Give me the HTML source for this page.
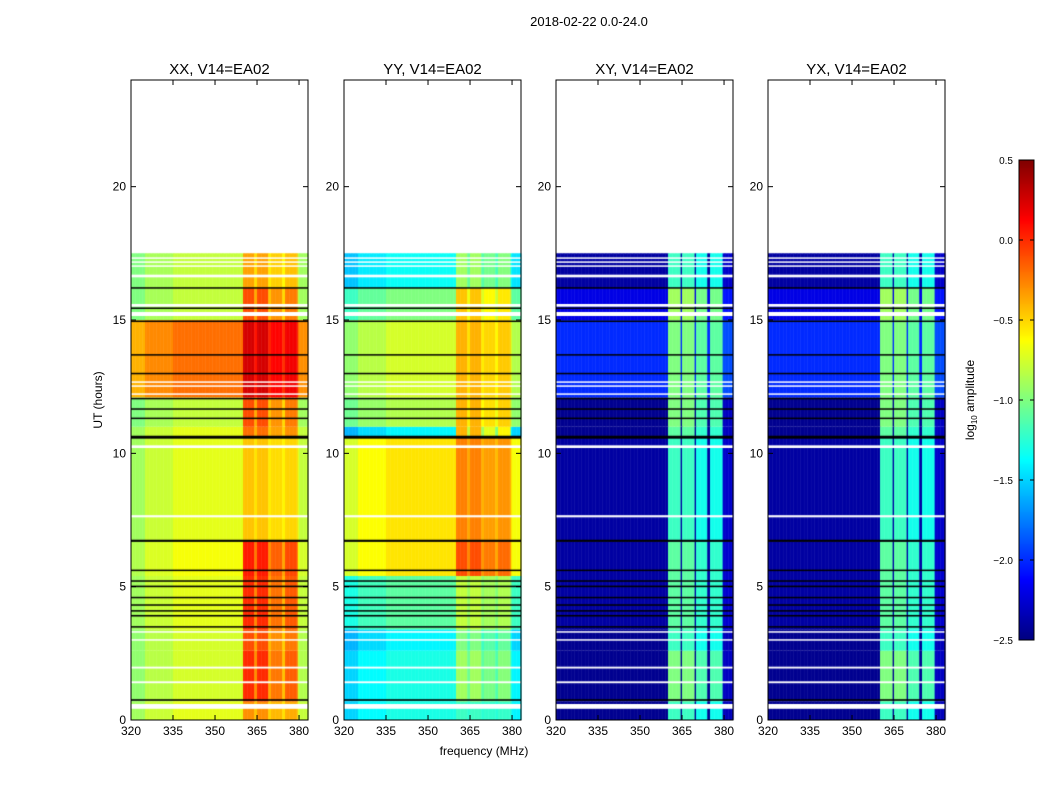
<!DOCTYPE html>
<html><head><meta charset="utf-8"><style>
html,body{margin:0;padding:0;background:#fff;}
#wrap{position:relative;width:1050px;height:800px;font-family:"Liberation Sans",sans-serif;}
canvas,svg{position:absolute;left:0;top:0;}
</style></head><body>
<div id="wrap">
<canvas id="cv" width="1050" height="800"></canvas>
<svg id="sv" width="1050" height="800"></svg>
</div>
<script>
// ---- data ----
const panelTitles = ["XX, V14=EA02","YY, V14=EA02","XY, V14=EA02","YX, V14=EA02"];
const freqStart = 320, freqEnd = 383.2, freqStep = 0.5;
const xTicks = [320,335,350,365,380];
const yTicks = [0,5,10,15,20];
const cbTicks = [0.5,0.0,-0.5,-1.0,-1.5,-2.0,-2.5];
const cbTickLabels = ["0.5","0.0","\u22120.5","\u22121.0","\u22121.5","\u22122.0","\u22122.5"];
// time bands: [t0, t1, xxBase, xxRfi, yyBase, yyRfi, xyBase, xyRfi]
const timeBands = [
 [0.0,0.7,-0.7,-0.3,-1.3,-1.2,-2.45,-1.2],
 [0.7,2.6,-0.75,0.0,-1.3,-0.9,-2.45,-1.0],
 [2.6,3.4,-0.75,-0.1,-1.4,-1.0,-2.45,-1.2],
 [3.4,5.4,-0.7,0.0,-1.1,-0.8,-2.4,-1.1],
 [5.4,6.7,-0.65,0.05,-0.55,-0.1,-2.4,-1.1],
 [6.7,10.6,-0.7,-0.45,-0.55,-0.25,-2.4,-1.2],
 [10.6,11.0,-0.7,-0.2,-1.4,-0.4,-2.45,-1.1],
 [11.0,12.1,-0.8,-0.1,-0.85,-0.4,-2.45,-1.0],
 [12.1,15.0,-0.2,0.25,-0.75,-0.4,-2.0,-1.0],
 [15.0,16.2,-0.8,-0.1,-1.0,-0.45,-2.2,-0.9],
 [16.2,17.5,-0.8,-0.35,-1.35,-0.9,-2.4,-1.2]
];
// RFI weight by frequency segment [f0,f1,weight]
const rfiParallel = [[360,364.2,1.0],[364.2,365.2,0.6],[365.2,369.2,1.0],[369.2,370.2,0.5],[370.2,374.2,0.7],[374.2,375.2,0.4],[375.2,379.5,0.8]];
const rfiCross = [[360,364.3,1.0],[365.2,369.3,1.0],[370.2,374.2,0.9],[375.2,379.5,0.9],[379.5,384,0.1]];
// base offset across the band [f0,f1,offset]
const baseOffset = [[320,325,-0.2],[325,335,-0.08],[380,384,-0.1]];
const whiteGaps = [[0.42,0.6],[1.38,1.45],[1.93,2.0],[2.98,3.03],[3.28,3.33],[7.6,7.68],[10.2,10.3],[12.2,12.25],[12.5,12.55],[12.65,12.7],[15.15,15.3],[15.5,15.6],[16.6,16.7],[17.0,17.05],[17.15,17.2],[17.3,17.35]];
const blackGaps = [[0.72,0.78],[3.48,3.52],[3.88,3.94],[4.08,4.12],[4.3,4.34],[4.58,4.62],[4.98,5.04],[5.2,5.24],[5.6,5.64],[6.68,6.76],[10.55,10.66],[11.3,11.34],[11.65,11.69],[12.03,12.08],[12.98,13.02],[13.68,13.72],[14.94,14.98],[15.43,15.47],[16.18,16.23]];
// ---- geometry ----
const panelX = [131,344,556,768], panelW = 177, panelTop = 80, panelBot = 720;
const yScale = h => panelBot - h*(panelBot-panelTop)/24;
const xScale = (p,f) => panelX[p] + (f-freqStart)*panelW/(freqEnd-freqStart);
const vmin=-2.5, vmax=0.5;
function jet(v){let t=Math.max(0,Math.min(1,(v-vmin)/(vmax-vmin)));
 const c=x=>Math.round(255*Math.max(0,Math.min(1,x)));
 return `rgb(${c(1.5-Math.abs(4*t-3))},${c(1.5-Math.abs(4*t-2))},${c(1.5-Math.abs(4*t-1))})`;}
function seg(list,f,def){for(const s of list){if(f>=s[0]&&f<s[1])return s[2];}return def;}
const cv=document.getElementById('cv'),ctx=cv.getContext('2d');
for(let p=0;p<4;p++){
 const bi = p<2 ? 2+2*p : 6;
 const rfi = p<2 ? rfiParallel : rfiCross;
 for(const b of timeBands){
  const y0=yScale(b[1]), y1=yScale(b[0]);
  for(let f=freqStart; f<freqEnd; f+=freqStep){
   const w=seg(rfi,f+freqStep/2,0);
   const off = p<2 ? seg(baseOffset,f+freqStep/2,0) : 0;
   const v=b[bi]+off+(b[bi+1]-b[bi])*w;
   ctx.fillStyle=jet(v);
   const xa=xScale(p,f), xb=xScale(p,Math.min(f+freqStep,freqEnd));
   ctx.fillRect(xa,y0,xb-xa+0.5,y1-y0);
  }
 }
 for(const g of whiteGaps){ctx.fillStyle='#fff';ctx.fillRect(panelX[p],yScale(g[1]),panelW,Math.max(1.5,yScale(g[0])-yScale(g[1])));}
 for(const g of blackGaps){ctx.fillStyle='#000';ctx.fillRect(panelX[p],yScale(g[1]),panelW,Math.max(1.5,yScale(g[0])-yScale(g[1])));}
}
// colorbar
const cbX=1019,cbW=15,cbTop=160,cbBot=640;
for(let y=cbTop;y<cbBot;y++){ctx.fillStyle=jet(vmax-(y-cbTop+0.5)/(cbBot-cbTop)*(vmax-vmin));ctx.fillRect(cbX,y,cbW,1);}
// ---- SVG overlay ----
const NS="http://www.w3.org/2000/svg", sv=document.getElementById('sv');
function mk(tag,attrs,txt){const e=document.createElementNS(NS,tag);for(const k in attrs)e.setAttribute(k,attrs[k]);if(txt!==undefined)e.textContent=txt;sv.appendChild(e);return e;}
let t=mk('text',{x:589,y:26,'font-size':13,'text-anchor':'middle'},'2018-02-22 0.0-24.0');


for(let p=0;p<4;p++){
 const r=mk('rect',{x:panelX[p],y:panelTop,width:panelW,height:panelBot-panelTop,fill:'none',stroke:'#000','stroke-width':1});
 
 
 const tt=mk('text',{x:panelX[p]+panelW/2,y:74,'font-size':15,'text-anchor':'middle'},panelTitles[p]);
 
 
 for(const v of yTicks){const y=yScale(v);
  mk('line',{x1:panelX[p],x2:panelX[p]+5,y1:y,y2:y,stroke:'#000'});
  mk('line',{x1:panelX[p]+panelW-5,x2:panelX[p]+panelW,y1:y,y2:y,stroke:'#000'});
  const l=mk('text',{x:panelX[p]-5,y:y+4,'font-size':12,'text-anchor':'end'},String(v));
  
  }
 for(const v of xTicks){const x=xScale(p,v);
  mk('line',{x1:x,x2:x,y1:panelBot,y2:panelBot-5,stroke:'#000'});
  mk('line',{x1:x,x2:x,y1:panelTop,y2:panelTop+5,stroke:'#000'});
  const l=mk('text',{x:x,y:735,'font-size':12,'text-anchor':'middle'},String(v));
  
  }
}
t=mk('text',{x:484,y:755,'font-size':12,'text-anchor':'middle'},'frequency (MHz)');


t=mk('text',{x:102,y:400,'font-size':12,'text-anchor':'middle',transform:'rotate(-90 102 400)'},'UT (hours)');


const cb=mk('rect',{x:cbX,y:cbTop,width:cbW,height:cbBot-cbTop,fill:'none',stroke:'#000'});


cbTicks.forEach((v,i)=>{const y=cbTop+(vmax-v)/(vmax-vmin)*(cbBot-cbTop);
 mk('line',{x1:cbX,x2:cbX+4,y1:y,y2:y,stroke:'#000'});
 mk('line',{x1:cbX+cbW-4,x2:cbX+cbW,y1:y,y2:y,stroke:'#000'});
 const l=mk('text',{x:1013,y:y+4,'font-size':10,'text-anchor':'end'},cbTickLabels[i]);
 
 });
t=mk('text',{x:974,y:400,'font-size':12,'text-anchor':'middle',transform:'rotate(-90 974 400)'});


t.innerHTML='log<tspan font-size="8" dy="3">10</tspan><tspan dy="-3"> amplitude</tspan>';
</script>
</body></html>
